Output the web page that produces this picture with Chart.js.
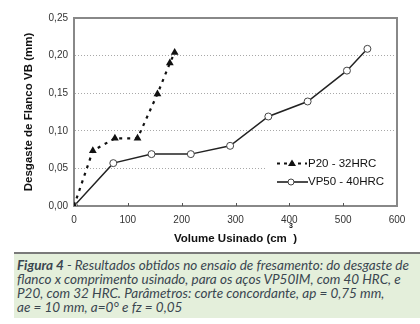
<!DOCTYPE html>
<html>
<head>
<meta charset="utf-8">
<script src="https://cdn.jsdelivr.net/npm/chart.js@4.4.0/dist/chart.umd.min.js"></script>
<style>
  body { margin: 0; background: #fff; width: 420px; height: 324px; overflow: hidden; position: relative; }
  #wrap { position: absolute; left: 0; top: 0; width: 420px; height: 250px; }
  .caption {
    position: absolute; left: 14px; top: 252px; width: 406px; height: 66px;
    background: #e4efdb; border-top: 2px solid #7a7a7a;
    font-family: Lato, "Open Sans", sans-serif; font-style: italic; font-size: 13.5px;
    line-height: 14px; color: #3a4650; padding: 4px 0 0 3px; box-sizing: border-box;
    white-space: nowrap;
  }
  .caption b { font-weight: 700; }
</style>
</head>
<body>
<div id="wrap"><canvas id="chart" width="420" height="250"></canvas></div>
<div class="caption"><b>Figura 4</b> - Resultados obtidos no ensaio de fresamento: do desgaste de<br>flanco x comprimento usinado, para os aços VP50IM, com 40 HRC, e<br>P20, com 32 HRC. Parâmetros: corte concordante, ap = 0,75 mm,<br>ae = 10 mm, a=0° e fz = 0,05</div>
<script>
// values
const p20Volume = [0, 35, 76, 118, 155, 178, 187];
const p20Wear = [0, 0.0735, 0.09, 0.09, 0.149, 0.19, 0.204];
const vp50Volume = [0, 73, 144, 217, 290, 361, 434, 507, 545];
const vp50Wear = [0, 0.057, 0.069, 0.069, 0.080, 0.119, 0.139, 0.180, 0.209];
const xTicks = [0, 100, 200, 300, 400, 500, 600];
const yTicks = [0, 0.05, 0.10, 0.15, 0.20, 0.25];

const labels = ["P20 - 32HRC", "VP50 - 40HRC"];
const font = "'Liberation Sans', Arial, sans-serif";

function pts(xs, ys) {
  return xs.map((x, i) => ({ x: x, y: ys[i] }));
}

// legend inside the plot + inward ticks + the odd superscript
const extras = {
  id: "extras",
  afterDraw(chart) {
    const ctx = chart.ctx;
    const a = chart.chartArea;
    const xs = chart.scales.x;
    ctx.save();
    // small ticks on the x axis, pointing up
    ctx.strokeStyle = "#555";
    ctx.lineWidth = 1;
    xTicks.slice(1, -1).forEach((v) => {
      const px = Math.round(xs.getPixelForValue(v)) + 0.5;
      ctx.beginPath();
      ctx.moveTo(px, a.bottom);
      ctx.lineTo(px, a.bottom - 3);
      ctx.stroke();
    });
    // legend box
    ctx.fillStyle = "#fff";
    ctx.fillRect(265, 156, 130, 34);
    ctx.font = "11.5px " + font;
    ctx.textBaseline = "middle";
    // P20
    ctx.strokeStyle = "#111";
    ctx.lineWidth = 2;
    ctx.setLineDash([3, 4]);
    ctx.beginPath();
    ctx.moveTo(277, 163.5);
    ctx.lineTo(307, 163.5);
    ctx.stroke();
    ctx.setLineDash([]);
    ctx.fillStyle = "#111";
    ctx.beginPath();
    ctx.moveTo(292, 159.5);
    ctx.lineTo(296, 166);
    ctx.lineTo(288, 166);
    ctx.closePath();
    ctx.fill();
    ctx.fillText(labels[0], 308, 163.5);
    // VP50
    ctx.lineWidth = 1.5;
    ctx.beginPath();
    ctx.moveTo(277, 182);
    ctx.lineTo(308, 182);
    ctx.stroke();
    ctx.fillStyle = "#fff";
    ctx.beginPath();
    ctx.arc(291, 182, 3, 0, Math.PI * 2);
    ctx.fill();
    ctx.lineWidth = 1;
    ctx.strokeStyle = "#444";
    ctx.stroke();
    ctx.fillStyle = "#111";
    ctx.fillText(labels[1], 308, 182);
    // superscript 3 of cm3
    ctx.font = "bold 7px " + font;
    ctx.textAlign = "center";
    ctx.fillText("3", 291, 226);
    ctx.restore();
  }
};

new Chart(document.getElementById("chart"), {
  type: "scatter",
  data: {
    datasets: [
      {
        label: labels[0],
        data: pts(p20Volume, p20Wear),
        showLine: true,
        borderColor: "#111",
        borderWidth: 2.2,
        borderDash: [3, 5],
        pointStyle: "triangle",
        pointRadius: 4.5,
        pointBackgroundColor: "#111",
        pointBorderColor: "#111",
        pointBorderWidth: 0
      },
      {
        label: labels[1],
        data: pts(vp50Volume, vp50Wear),
        showLine: true,
        borderColor: "#222",
        borderWidth: 1.5,
        pointStyle: "circle",
        pointRadius: 3.5,
        pointBackgroundColor: "#fff",
        pointBorderColor: "#444",
        pointBorderWidth: 1
      }
    ]
  },
  options: {
    responsive: false,
    animation: false,
    events: [],
    layout: { padding: { left: 0, right: 23, top: 18, bottom: 0 } },
    plugins: { legend: { display: false }, tooltip: { enabled: false } },
    scales: {
      x: {
        type: "linear",
        min: 0,
        max: 600,
        afterBuildTicks: (s) => { s.ticks = xTicks.map((v) => ({ value: v })); },
        afterFit: (s) => { s.height = 44; },
        grid: { display: false, drawTicks: false },
        border: { color: "#888", width: 2 },
        ticks: {
          padding: 8,
          color: "#333",
          maxRotation: 0,
          font: { family: font, size: 10 }
        },
        title: {
          display: true,
          text: "Volume Usinado (cm  )",
          color: "#111",
          padding: { top: 2 },
          font: { family: font, size: 11.5, weight: "bold" }
        }
      },
      y: {
        min: 0,
        max: 0.25,
        afterBuildTicks: (s) => { s.ticks = yTicks.map((v) => ({ value: v })); },
        afterFit: (s) => { s.width = 74; },
        grid: {
          drawTicks: false,
          color: (c) => (c.tick.value > 0 && c.tick.value < 0.25 ? "#a8a8a8" : "transparent"),
          lineWidth: 1
        },
        border: { color: "#888", width: 2, dash: [1, 2] },
        ticks: {
          padding: 6,
          color: "#333",
          font: { family: font, size: 10 },
          callback: (v) => v.toFixed(2).replace(".", ",")
        },
        title: {
          display: true,
          text: "Desgaste de Flanco VB (mm)",
          color: "#111",
          padding: { top: 22, bottom: 0 },
          font: { family: font, size: 11.5, weight: "bold" }
        }
      }
    }
  },
  plugins: [
    {
      id: "frame",
      beforeDatasetsDraw(chart) {
        const ctx = chart.ctx;
        const a = chart.chartArea;
        ctx.save();
        ctx.strokeStyle = "#888";
        ctx.lineWidth = 2;
        ctx.strokeRect(a.left, a.top, a.right - a.left, a.bottom - a.top);
        ctx.restore();
      }
    },
    extras
  ]
});
</script>
</body>
</html>
